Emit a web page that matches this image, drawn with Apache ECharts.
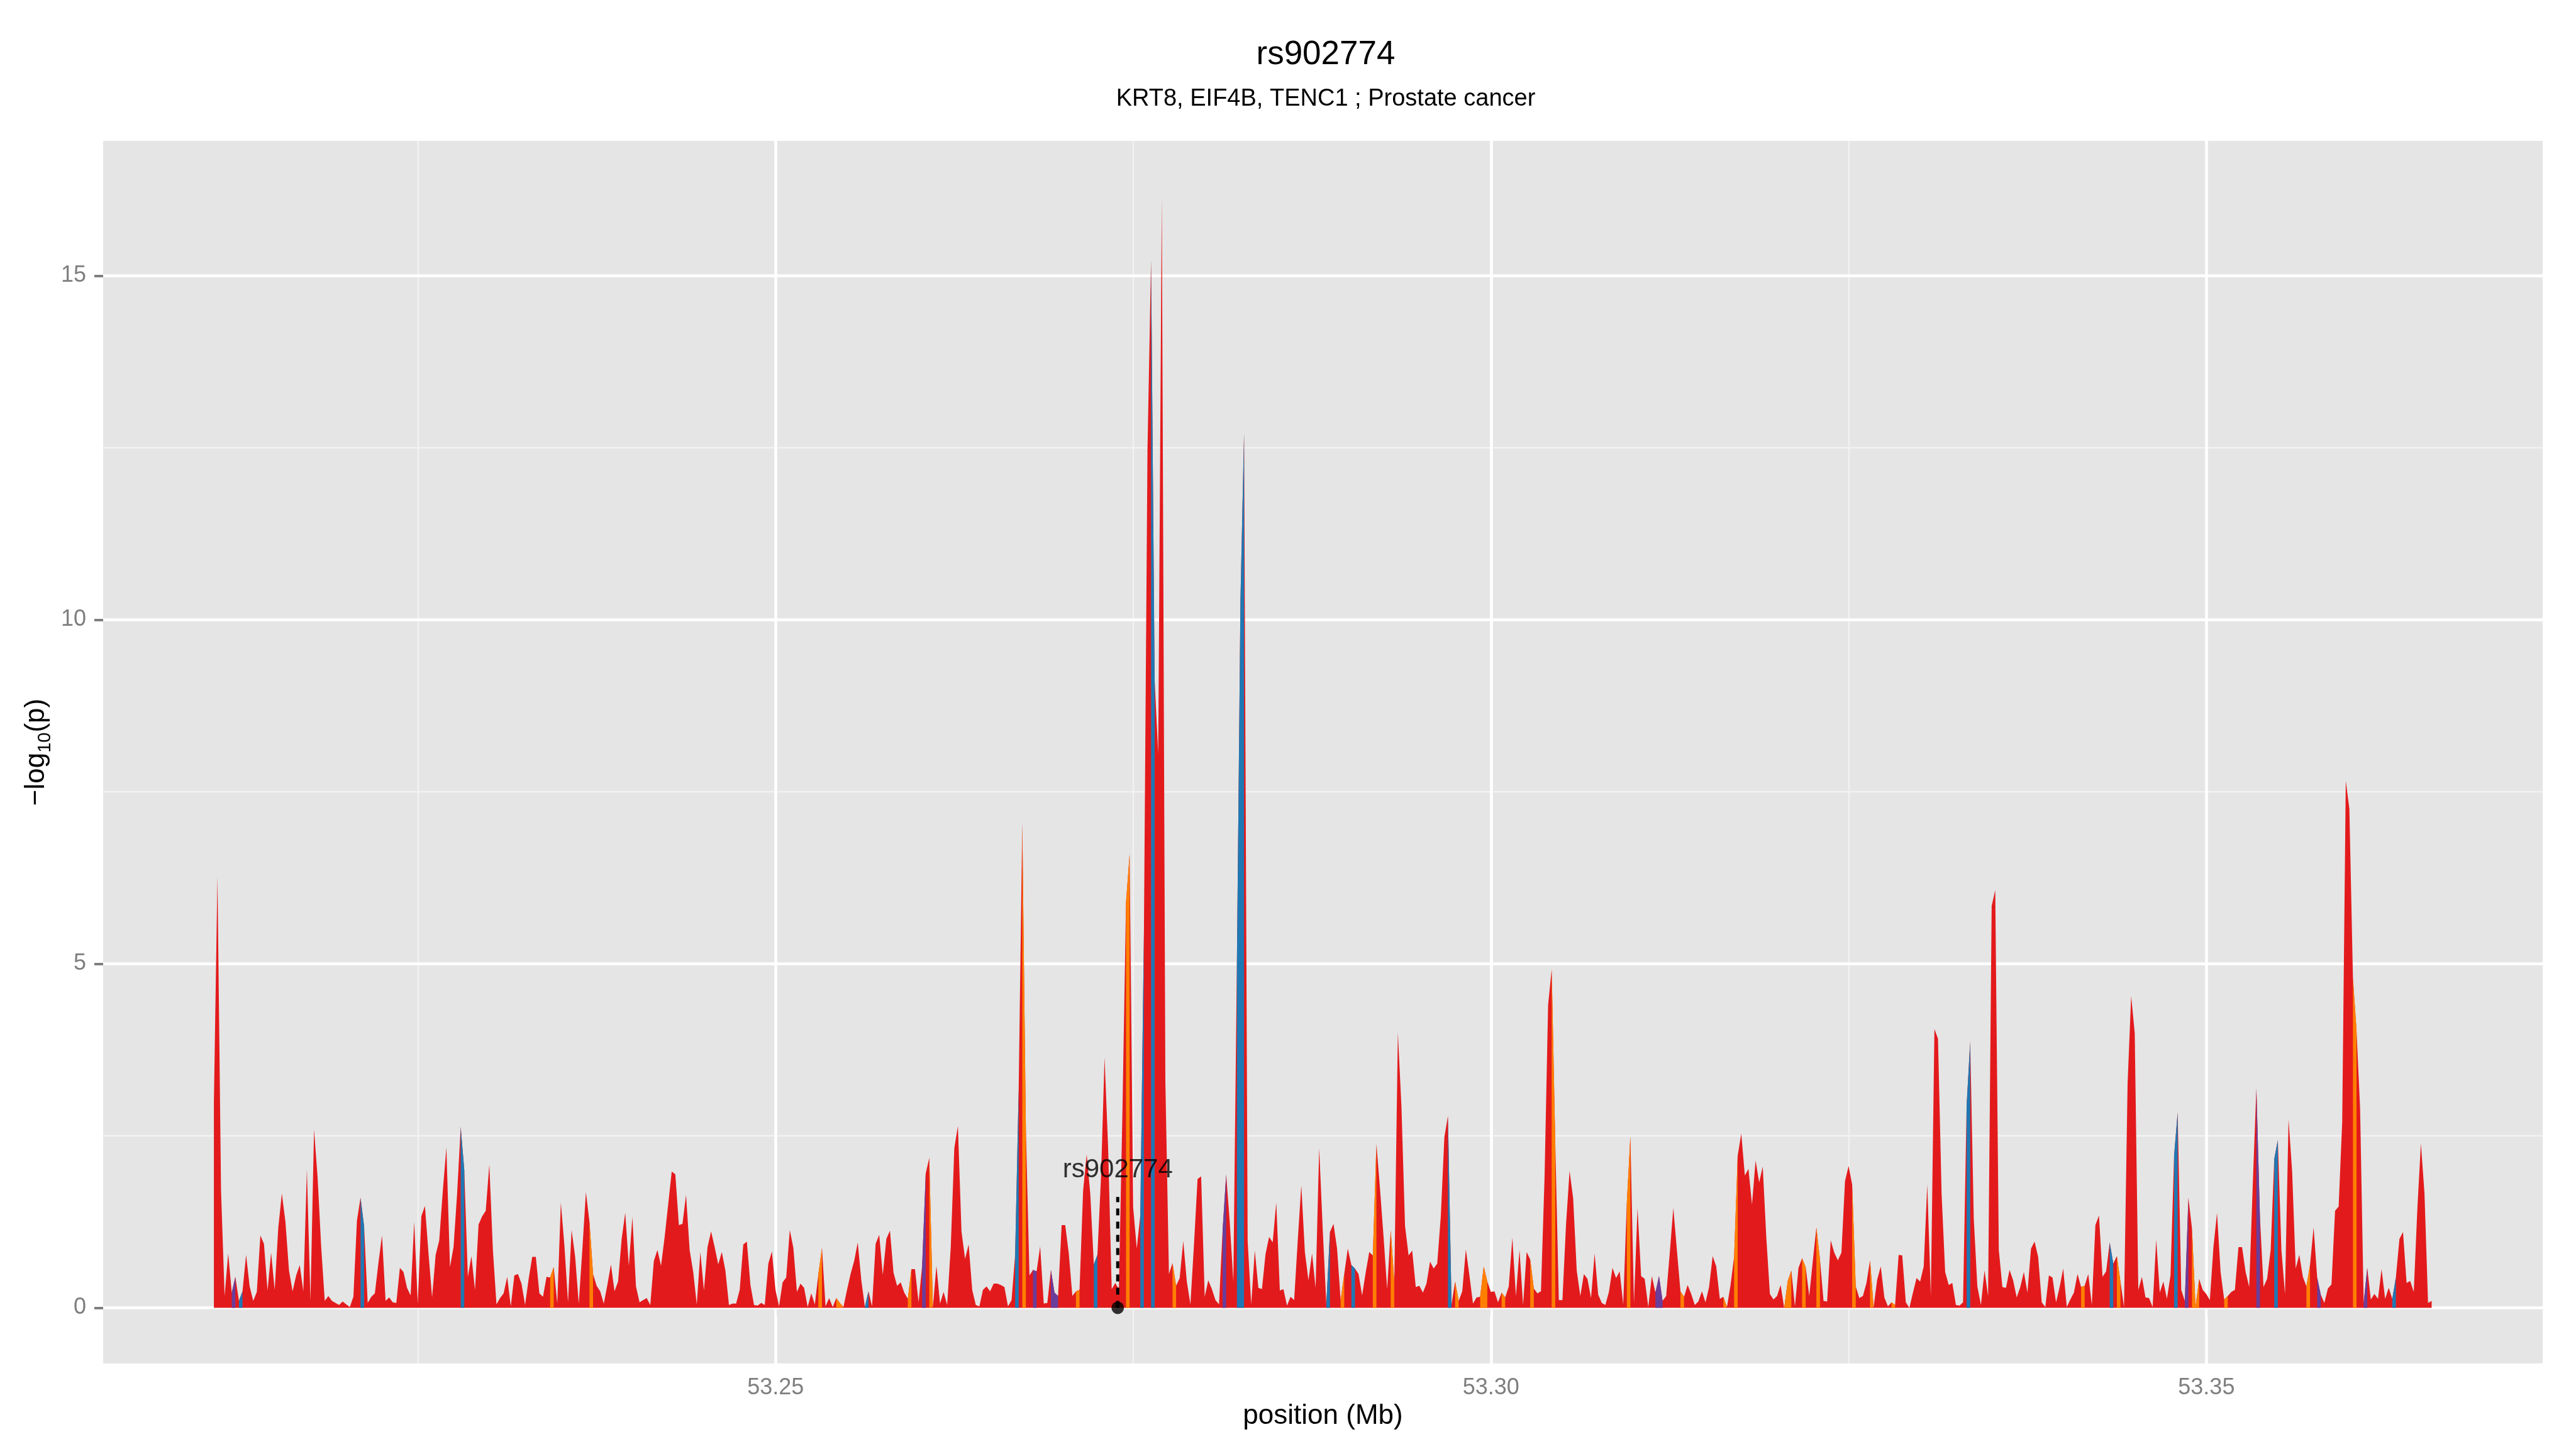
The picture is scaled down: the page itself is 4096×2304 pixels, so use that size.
<!DOCTYPE html>
<html>
<head>
<meta charset="utf-8">
<title>rs902774</title>
<script src="https://cdn.jsdelivr.net/npm/echarts@6/dist/echarts.min.js"></script>
<style>
  html, body { margin: 0; padding: 0; background: #fff; }
  #chart { width: 4096px; height: 2304px; }
</style>
</head>
<body>
<div id="chart"></div>
<script>
// SNP positions (Mb) along the region
const positionsMb = [
  53.21074, 53.21099, 53.21124, 53.21149, 53.21174, 53.21199, 53.21224, 53.21249, 53.21274, 53.21299,
  53.21324, 53.21349, 53.21374, 53.21399, 53.21424, 53.21449, 53.21474, 53.21499, 53.21524, 53.21549,
  53.21574, 53.21599, 53.21624, 53.21649, 53.21674, 53.21699, 53.21724, 53.21749, 53.21774, 53.21799,
  53.21824, 53.21849, 53.21874, 53.21899, 53.21924, 53.21949, 53.21974, 53.21999, 53.22024, 53.22049,
  53.22074, 53.22099, 53.22124, 53.22149, 53.22174, 53.22199, 53.22224, 53.22249, 53.22274, 53.22299,
  53.22324, 53.22349, 53.22374, 53.22399, 53.22424, 53.22449, 53.22474, 53.22499, 53.22524, 53.22549,
  53.22574, 53.22599, 53.22624, 53.22649, 53.22674, 53.22699, 53.22724, 53.22749, 53.22774, 53.22799,
  53.22824, 53.22849, 53.22874, 53.22899, 53.22924, 53.22949, 53.22974, 53.22999, 53.23024, 53.23049,
  53.23074, 53.23099, 53.23124, 53.23149, 53.23174, 53.23199, 53.23224, 53.23249, 53.23274, 53.23299,
  53.23324, 53.23349, 53.23374, 53.23399, 53.23424, 53.23449, 53.23474, 53.23499, 53.23524, 53.23549,
  53.23574, 53.23599, 53.23624, 53.23649, 53.23674, 53.23699, 53.23724, 53.23749, 53.23774, 53.23799,
  53.23824, 53.23849, 53.23874, 53.23899, 53.23924, 53.23949, 53.23974, 53.23999, 53.24024, 53.24049,
  53.24074, 53.24099, 53.24124, 53.24149, 53.24174, 53.24199, 53.24224, 53.24249, 53.24274, 53.24299,
  53.24324, 53.24349, 53.24374, 53.24399, 53.24424, 53.24449, 53.24474, 53.24499, 53.24524, 53.24549,
  53.24574, 53.24599, 53.24624, 53.24649, 53.24674, 53.24699, 53.24724, 53.24749, 53.24774, 53.24799,
  53.24824, 53.24849, 53.24874, 53.24899, 53.24924, 53.24949, 53.24974, 53.24999, 53.25024, 53.25049,
  53.25074, 53.25099, 53.25124, 53.25149, 53.25174, 53.25199, 53.25224, 53.25249, 53.25274, 53.25299,
  53.25324, 53.25349, 53.25374, 53.25399, 53.25424, 53.25449, 53.25474, 53.25499, 53.25524, 53.25549,
  53.25574, 53.25599, 53.25624, 53.25649, 53.25674, 53.25699, 53.25724, 53.25749, 53.25774, 53.25799,
  53.25824, 53.25849, 53.25874, 53.25899, 53.25924, 53.25949, 53.25974, 53.25999, 53.26024, 53.26049,
  53.26074, 53.26099, 53.26124, 53.26149, 53.26174, 53.26199, 53.26224, 53.26249, 53.26274, 53.26299,
  53.26324, 53.26349, 53.26374, 53.26399, 53.26424, 53.26449, 53.26474, 53.26499, 53.26524, 53.26549,
  53.26574, 53.26599, 53.26624, 53.26649, 53.26674, 53.26699, 53.26724, 53.26749, 53.26774, 53.26799,
  53.26824, 53.26849, 53.26874, 53.26899, 53.26924, 53.26949, 53.26974, 53.26999, 53.27024, 53.27049,
  53.27074, 53.27099, 53.27124, 53.27149, 53.27174, 53.27199, 53.27224, 53.27249, 53.27274, 53.27299,
  53.27324, 53.27349, 53.27374, 53.27399, 53.27424, 53.27449, 53.27474, 53.27499, 53.27524, 53.27549,
  53.27574, 53.27599, 53.27624, 53.27649, 53.27674, 53.27699, 53.27724, 53.27749, 53.27774, 53.27799,
  53.27824, 53.27849, 53.27874, 53.27899, 53.27924, 53.27949, 53.27974, 53.27999, 53.28024, 53.28049,
  53.28074, 53.28099, 53.28124, 53.28149, 53.28174, 53.28199, 53.28224, 53.28249, 53.28274, 53.28299,
  53.28324, 53.28349, 53.28374, 53.28399, 53.28424, 53.28449, 53.28474, 53.28499, 53.28524, 53.28549,
  53.28574, 53.28599, 53.28624, 53.28649, 53.28674, 53.28699, 53.28724, 53.28749, 53.28774, 53.28799,
  53.28824, 53.28849, 53.28874, 53.28899, 53.28924, 53.28949, 53.28974, 53.28999, 53.29024, 53.29049,
  53.29074, 53.29099, 53.29124, 53.29149, 53.29174, 53.29199, 53.29224, 53.29249, 53.29274, 53.29299,
  53.29324, 53.29349, 53.29374, 53.29399, 53.29424, 53.29449, 53.29474, 53.29499, 53.29524, 53.29549,
  53.29574, 53.29599, 53.29624, 53.29649, 53.29674, 53.29699, 53.29724, 53.29749, 53.29774, 53.29799,
  53.29824, 53.29849, 53.29874, 53.29899, 53.29924, 53.29949, 53.29974, 53.29999, 53.30024, 53.30049,
  53.30074, 53.30099, 53.30124, 53.30149, 53.30174, 53.30199, 53.30224, 53.30249, 53.30274, 53.30299,
  53.30324, 53.30349, 53.30374, 53.30399, 53.30424, 53.30449, 53.30474, 53.30499, 53.30524, 53.30549,
  53.30574, 53.30599, 53.30624, 53.30649, 53.30674, 53.30699, 53.30724, 53.30749, 53.30774, 53.30799,
  53.30824, 53.30849, 53.30874, 53.30899, 53.30924, 53.30949, 53.30974, 53.30999, 53.31024, 53.31049,
  53.31074, 53.31099, 53.31124, 53.31149, 53.31174, 53.31199, 53.31224, 53.31249, 53.31274, 53.31299,
  53.31324, 53.31349, 53.31374, 53.31399, 53.31424, 53.31449, 53.31474, 53.31499, 53.31524, 53.31549,
  53.31574, 53.31599, 53.31624, 53.31649, 53.31674, 53.31699, 53.31724, 53.31749, 53.31774, 53.31799,
  53.31824, 53.31849, 53.31874, 53.31899, 53.31924, 53.31949, 53.31974, 53.31999, 53.32024, 53.32049,
  53.32074, 53.32099, 53.32124, 53.32149, 53.32174, 53.32199, 53.32224, 53.32249, 53.32274, 53.32299,
  53.32324, 53.32349, 53.32374, 53.32399, 53.32424, 53.32449, 53.32474, 53.32499, 53.32524, 53.32549,
  53.32574, 53.32599, 53.32624, 53.32649, 53.32674, 53.32699, 53.32724, 53.32749, 53.32774, 53.32799,
  53.32824, 53.32849, 53.32874, 53.32899, 53.32924, 53.32949, 53.32974, 53.32999, 53.33024, 53.33049,
  53.33074, 53.33099, 53.33124, 53.33149, 53.33174, 53.33199, 53.33224, 53.33249, 53.33274, 53.33299,
  53.33324, 53.33349, 53.33374, 53.33399, 53.33424, 53.33449, 53.33474, 53.33499, 53.33524, 53.33549,
  53.33574, 53.33599, 53.33624, 53.33649, 53.33674, 53.33699, 53.33724, 53.33749, 53.33774, 53.33799,
  53.33824, 53.33849, 53.33874, 53.33899, 53.33924, 53.33949, 53.33974, 53.33999, 53.34024, 53.34049,
  53.34074, 53.34099, 53.34124, 53.34149, 53.34174, 53.34199, 53.34224, 53.34249, 53.34274, 53.34299,
  53.34324, 53.34349, 53.34374, 53.34399, 53.34424, 53.34449, 53.34474, 53.34499, 53.34524, 53.34549,
  53.34574, 53.34599, 53.34624, 53.34649, 53.34674, 53.34699, 53.34724, 53.34749, 53.34774, 53.34799,
  53.34824, 53.34849, 53.34874, 53.34899, 53.34924, 53.34949, 53.34974, 53.34999, 53.35024, 53.35049,
  53.35074, 53.35099, 53.35124, 53.35149, 53.35174, 53.35199, 53.35224, 53.35249, 53.35274, 53.35299,
  53.35324, 53.35349, 53.35374, 53.35399, 53.35424, 53.35449, 53.35474, 53.35499, 53.35524, 53.35549,
  53.35574, 53.35599, 53.35624, 53.35649, 53.35674, 53.35699, 53.35724, 53.35749, 53.35774, 53.35799,
  53.35824, 53.35849, 53.35874, 53.35899, 53.35924, 53.35949, 53.35974, 53.35999, 53.36024, 53.36049,
  53.36074, 53.36099, 53.36124, 53.36149, 53.36174, 53.36199, 53.36224, 53.36249, 53.36274, 53.36299,
  53.36324, 53.36349, 53.36374, 53.36399, 53.36424, 53.36449, 53.36474, 53.36499, 53.36524, 53.36549,
  53.36574
]

// -log10(p) at each SNP
const logP = [
  2.98, 6.27, 1.70, 0.17, 0.79, 0.22, 0.45, 0.10, 0.24, 0.77,
  0.31, 0.10, 0.23, 1.05, 0.93, 0.25, 0.80, 0.26, 1.16, 1.66,
  1.25, 0.54, 0.24, 0.47, 0.62, 0.24, 2.01, 0.10, 2.59, 1.89,
  0.88, 0.10, 0.17, 0.10, 0.07, 0.04, 0.09, 0.05, 0.01, 0.16,
  1.27, 1.60, 1.18, 0.07, 0.16, 0.21, 0.65, 1.05, 0.10, 0.15,
  0.08, 0.07, 0.58, 0.52, 0.29, 0.18, 1.25, 0.06, 1.33, 1.48,
  0.79, 0.15, 0.77, 0.98, 1.70, 2.33, 0.59, 0.88, 1.66, 2.63,
  2.00, 0.45, 0.75, 0.26, 1.21, 1.33, 1.41, 2.08, 0.84, 0.05,
  0.14, 0.21, 0.45, 0.02, 0.47, 0.49, 0.35, 0.04, 0.42, 0.74,
  0.74, 0.21, 0.16, 0.45, 0.44, 0.59, 0.06, 1.53, 0.90, 0.08,
  1.13, 0.74, 0.06, 0.84, 1.68, 1.25, 0.49, 0.32, 0.24, 0.06,
  0.33, 0.63, 0.24, 0.38, 1.00, 1.38, 0.61, 1.32, 0.31, 0.08,
  0.11, 0.14, 0.04, 0.68, 0.84, 0.61, 1.02, 1.50, 1.98, 1.94,
  1.20, 1.22, 1.64, 0.84, 0.52, 0.05, 0.81, 0.25, 0.88, 1.11,
  0.88, 0.63, 0.81, 0.54, 0.04, 0.06, 0.06, 0.26, 0.92, 0.96,
  0.33, 0.04, 0.03, 0.07, 0.04, 0.64, 0.82, 0.26, 0.02, 0.37,
  0.44, 1.13, 0.87, 0.23, 0.35, 0.29, 0.01, 0.21, 0.05, 0.49,
  0.87, 0.02, 0.14, 0.01, 0.14, 0.07, 0.01, 0.26, 0.49, 0.68,
  0.95, 0.40, 0.01, 0.24, 0.02, 0.93, 1.06, 0.48, 1.00, 1.12,
  0.51, 0.32, 0.37, 0.22, 0.13, 0.56, 0.56, 0.08, 0.61, 1.95,
  2.18, 0.01, 0.61, 0.06, 0.23, 0.04, 0.88, 2.32, 2.64, 1.11,
  0.71, 0.92, 0.26, 0.04, 0.02, 0.26, 0.31, 0.24, 0.35, 0.35,
  0.33, 0.30, 0.02, 0.11, 0.77, 3.20, 7.05, 2.60, 0.47, 0.55,
  0.53, 0.89, 0.06, 0.07, 0.55, 0.22, 0.17, 1.20, 1.20, 0.79,
  0.17, 0.24, 0.26, 1.70, 2.23, 1.66, 0.63, 0.77, 1.89, 3.64,
  2.32, 0.27, 0.36, 0.27, 2.86, 5.89, 6.59, 1.46, 0.86, 1.35,
  5.45, 12.47, 15.23, 9.13, 8.05, 16.15, 3.29, 0.49, 0.65, 0.32,
  0.43, 0.97, 0.38, 0.05, 0.92, 1.87, 1.91, 0.16, 0.40, 0.27,
  0.11, 0.05, 1.13, 1.94, 1.24, 0.38, 5.02, 10.31, 12.71, 0.97,
  0.05, 0.83, 0.29, 0.27, 0.78, 1.03, 0.95, 1.53, 0.25, 0.27,
  0.03, 0.16, 0.11, 0.97, 1.78, 0.81, 0.40, 0.79, 0.29, 2.32,
  1.13, 0.05, 1.10, 1.22, 0.86, 0.11, 0.49, 0.86, 0.62, 0.57,
  0.49, 0.18, 0.51, 0.81, 0.76, 2.38, 1.73, 1.03, 0.27, 1.13,
  0.38, 4.00, 2.92, 1.19, 0.76, 0.83, 0.30, 0.32, 0.22, 0.35,
  0.67, 0.57, 0.64, 1.33, 2.48, 2.79, 0.05, 0.38, 0.10, 0.24,
  0.85, 0.47, 0.06, 0.15, 0.16, 0.60, 0.38, 0.23, 0.24, 0.08,
  0.22, 0.15, 0.31, 1.02, 0.17, 0.84, 0.04, 0.81, 0.70, 0.28,
  0.21, 0.24, 1.89, 4.40, 4.92, 2.40, 0.11, 0.11, 1.20, 1.99,
  1.59, 0.54, 0.17, 0.49, 0.42, 0.14, 0.79, 0.19, 0.07, 0.04,
  0.23, 0.58, 0.43, 0.53, 0.05, 1.52, 2.49, 0.07, 1.45, 0.46,
  0.42, 0.01, 0.46, 0.22, 0.46, 0.10, 0.17, 0.79, 1.45, 0.84,
  0.24, 0.16, 0.33, 0.20, 0.04, 0.09, 0.24, 0.08, 0.30, 0.75,
  0.60, 0.13, 0.16, 0.01, 0.33, 0.74, 2.21, 2.53, 1.92, 2.02,
  1.50, 2.14, 1.82, 2.05, 1.02, 0.20, 0.12, 0.17, 0.33, 0.00,
  0.39, 0.54, 0.02, 0.58, 0.72, 0.59, 0.17, 0.68, 1.17, 0.70,
  0.10, 0.09, 0.98, 0.80, 0.69, 0.80, 1.84, 2.06, 1.79, 0.31,
  0.14, 0.17, 0.36, 0.69, 0.01, 0.41, 0.60, 0.15, 0.02, 0.08,
  0.04, 0.77, 0.76, 0.08, 0.00, 0.22, 0.43, 0.38, 0.60, 1.79,
  0.17, 4.05, 3.91, 1.66, 0.52, 0.33, 0.36, 0.04, 0.03, 0.08,
  2.94, 3.87, 1.29, 0.31, 0.04, 0.54, 0.17, 5.84, 6.07, 0.84,
  0.30, 0.29, 0.55, 0.40, 0.15, 0.30, 0.52, 0.22, 0.86, 0.96,
  0.74, 0.08, 0.01, 0.47, 0.44, 0.08, 0.30, 0.57, 0.01, 0.12,
  0.22, 0.49, 0.30, 0.32, 0.49, 0.04, 1.20, 1.34, 0.45, 0.53,
  0.95, 0.64, 0.75, 0.38, 0.01, 3.26, 4.53, 3.99, 0.26, 0.45,
  0.15, 0.14, 0.01, 0.99, 0.22, 0.38, 0.13, 0.47, 2.21, 2.84,
  0.26, 0.10, 1.60, 1.15, 0.01, 0.42, 0.26, 0.20, 0.11, 0.88,
  1.38, 0.52, 0.12, 0.17, 0.23, 0.26, 0.88, 0.88, 0.52, 0.30,
  1.79, 3.19, 1.32, 0.30, 0.42, 0.84, 2.16, 2.44, 0.84, 0.20,
  2.74, 1.98, 0.57, 0.77, 0.45, 0.31, 0.62, 1.17, 0.44, 0.19,
  0.07, 0.28, 0.34, 1.41, 1.47, 2.70, 7.66, 7.25, 4.79, 4.03,
  2.90, 0.07, 0.58, 0.12, 0.20, 0.13, 0.56, 0.13, 0.29, 0.13,
  0.44, 1.00, 1.10, 0.36, 0.39, 0.23, 1.43, 2.39, 1.66, 0.07,
  0.10
]

// index of the SNP that opens each coloured stretch (to the next SNP)
const orangeSegments = [94, 105, 169, 174, 175, 194, 200, 226, 241, 255, 268, 315, 324, 329, 347, 354, 355, 360, 368, 374,
  395, 410, 422, 425, 439, 440, 444, 448, 458, 463, 469, 522, 532, 553, 554, 562, 585, 598]
const blueSegments = [7, 41, 69, 182, 224, 246, 259, 262, 286, 287, 311, 318, 345, 490, 530, 548, 576, 609]
const purpleSegments = [5, 198, 229, 234, 235, 282, 403, 404, 551, 571, 588, 601]

const leadSnp = 'rs902774'
const leadPositionMb = 53.27391

const xTicks = [53.25, 53.30, 53.35]
const xMinorTicks = [53.225, 53.275, 53.325]
const yTicks = [0, 5, 10, 15]
const yMinorTicks = [2.5, 7.5, 12.5]

const X_MIN = 53.2030
const X_MAX = 53.3735
const Y_MIN = -0.81
const Y_MAX = 16.96
const FONT = '"Liberation Sans", Arial, Helvetica, sans-serif'

const COLORS = { red: '#E31A1C', orange: '#FF7F00', blue: '#1F78B4', purple: '#6A3D9A' }

function segmentData(starts) {
  const out = []
  starts.forEach((s, k) => {
    const joined = k > 0 && starts[k - 1] === s - 1
    if (!joined) {
      if (out.length) out.push([positionsMb[s], '-'])
      out.push([positionsMb[s], logP[s]])
    }
    out.push([positionsMb[s + 1], logP[s + 1]])
  })
  return out
}

function gridLineData() {
  const lines = []
  const minor = { color: '#F2F2F2', width: 2.3, opacity: 1 }
  const major = { color: '#FFFFFF', width: 4.6, opacity: 1 }
  xMinorTicks.forEach(x => lines.push({ coords: [[x, Y_MIN], [x, Y_MAX]], lineStyle: minor }))
  yMinorTicks.forEach(y => lines.push({ coords: [[X_MIN, y], [X_MAX, y]], lineStyle: minor }))
  xTicks.forEach(x => lines.push({ coords: [[x, Y_MIN], [x, Y_MAX]], lineStyle: major }))
  yTicks.forEach(y => lines.push({ coords: [[X_MIN, y], [X_MAX, y]], lineStyle: major }))
  return lines
}

function areaSeries(name, data, color, z) {
  return {
    name,
    type: 'line',
    data,
    z,
    symbol: 'none',
    showSymbol: false,
    connectNulls: false,
    lineStyle: { width: 0, opacity: 0 },
    areaStyle: { color, opacity: 1 },
    itemStyle: { color },
    silent: true,
  }
}

const chart = echarts.init(document.getElementById('chart'), null, { renderer: 'canvas' })

chart.setOption({
  animation: false,
  backgroundColor: '#FFFFFF',
  textStyle: { fontFamily: FONT },
  title: [
    {
      text: leadSnp,
      left: 2103,
      top: 56,
      textAlign: 'center',
      textStyle: { fontSize: 53, fontWeight: 'normal', color: '#000', fontFamily: FONT },
    },
    {
      text: 'KRT8, EIF4B, TENC1 ; Prostate cancer',
      left: 2103,
      top: 134,
      textAlign: 'center',
      textStyle: { fontSize: 38, fontWeight: 'normal', color: '#000', fontFamily: FONT },
    },
  ],
  grid: {
    left: 164,
    right: 53,
    top: 224,
    bottom: 136,
    show: true,
    backgroundColor: '#E5E5E5',
    borderWidth: 0,
  },
  xAxis: {
    type: 'value',
    min: X_MIN,
    max: X_MAX,
    axisLine: { show: false },
    axisTick: { show: true, customValues: xTicks, length: 14, lineStyle: { color: '#7F7F7F', width: 4 } },
    axisLabel: {
      customValues: xTicks,
      formatter: v => v.toFixed(2),
      color: '#7F7F7F',
      fontSize: 36,
      margin: 21,
      fontFamily: FONT,
    },
    splitLine: { show: false },
    name: 'position (Mb)',
    nameLocation: 'middle',
    nameGap: 60,
    nameTextStyle: { fontSize: 44, color: '#000', fontFamily: FONT },
  },
  yAxis: {
    type: 'value',
    min: Y_MIN,
    max: Y_MAX,
    axisLine: { show: false },
    axisTick: { show: true, customValues: yTicks, length: 14, lineStyle: { color: '#7F7F7F', width: 4 } },
    axisLabel: {
      customValues: yTicks,
      formatter: v => String(v),
      color: '#7F7F7F',
      fontSize: 36,
      margin: 27,
      fontFamily: FONT,
    },
    splitLine: { show: false },
    name: '{m|\u2212log}{sub|10}{m|(p)}',
    nameLocation: 'middle',
    nameRotate: 90,
    nameGap: 78,
    nameTextStyle: {
      color: '#000',
      fontFamily: FONT,
      rich: {
        m: { fontSize: 44, lineHeight: 44, verticalAlign: 'top', color: '#000', fontFamily: FONT },
        sub: { fontSize: 29, lineHeight: 29, verticalAlign: 'top', padding: [21, 0, 0, 0], color: '#000', fontFamily: FONT },
      },
    },
  },
  series: [
    {
      name: 'grid',
      type: 'lines',
      coordinateSystem: 'cartesian2d',
      polyline: false,
      silent: true,
      z: 1,
      lineStyle: { opacity: 1 },
      data: gridLineData(),
    },
    areaSeries('red', positionsMb.map((x, i) => [x, logP[i]]), COLORS.red, 2),
    areaSeries('orange', segmentData(orangeSegments), COLORS.orange, 3),
    areaSeries('blue', segmentData(blueSegments), COLORS.blue, 3),
    areaSeries('purple', segmentData(purpleSegments), COLORS.purple, 3),
    {
      name: 'lead-line',
      type: 'line',
      z: 5,
      symbol: 'none',
      silent: true,
      data: [[leadPositionMb, 0], [leadPositionMb, 1.61]],
      lineStyle: { color: '#000', width: 5, type: [11, 10] },
    },
    {
      name: 'lead-dot',
      type: 'scatter',
      z: 6,
      silent: true,
      symbolSize: 20,
      itemStyle: { color: '#000' },
      data: [[leadPositionMb, 0]],
    },
    {
      name: 'lead-label',
      type: 'scatter',
      z: 6,
      silent: true,
      symbolSize: 1,
      itemStyle: { color: 'transparent' },
      data: [[leadPositionMb, 2.0]],
      label: {
        show: true,
        position: 'inside',
        formatter: leadSnp,
        fontSize: 42,
        color: '#000',
        fontFamily: FONT,
      },
    },
  ],
})

window.addEventListener('resize', () => chart.resize())
</script>
</body>
</html>
